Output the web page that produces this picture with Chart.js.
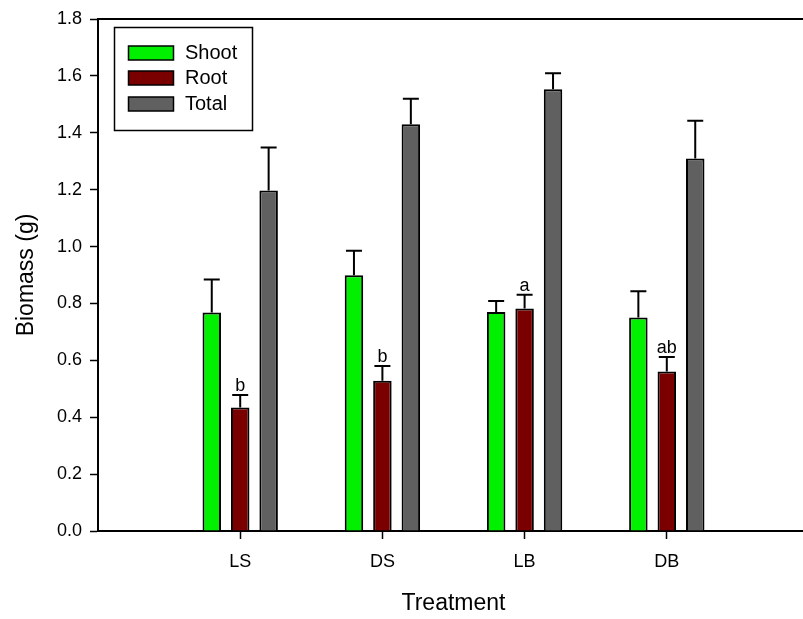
<!DOCTYPE html>
<html>
<head>
<meta charset="utf-8">
<script src="https://cdn.jsdelivr.net/npm/chart.js@4.4.1/dist/chart.umd.min.js"></script>
<style>
  html, body { margin: 0; padding: 0; background: #fff; overflow: hidden; }
  #wrap { width: 803px; height: 619px; overflow: hidden; }
  canvas { display: block; }
</style>
</head>
<body>
<div id="wrap"><canvas id="chart" width="821" height="619"></canvas></div>
<script>
const categories = ['LS', 'DS', 'LB', 'DB'];
const shoot = [0.768, 0.899, 0.770, 0.751];
const root = [0.434, 0.528, 0.782, 0.561];
const total = [1.197, 1.430, 1.553, 1.310];
const shootErr = [0.116, 0.086, 0.039, 0.092];
const rootErr = [0.044, 0.052, 0.049, 0.051];
const totalErr = [0.151, 0.090, 0.056, 0.132];
const rootLetters = ['b', 'b', 'a', 'ab'];
const yTicks = [0.0, 0.2, 0.4, 0.6, 0.8, 1.0, 1.2, 1.4, 1.6, 1.8];

const FONT = 'Arial, "Liberation Sans", sans-serif';

// empty slots either side so the groups sit like the original x range
const pad = arr => [null, ...arr, null];
const labels = ['', ...categories, ''];

const errorBars = {
    id: 'errorBars',
    afterDatasetsDraw(chart) {
        const ctx = chart.ctx;
        const y = chart.scales.y;
        const errs = [shootErr, rootErr, totalErr];
        ctx.save();
        ctx.strokeStyle = '#000';
        ctx.lineWidth = 2;
        chart.data.datasets.forEach((ds, d) => {
            const meta = chart.getDatasetMeta(d);
            errs[d].forEach((e, i) => {
                const bar = meta.data[i + 1];
                const top = y.getPixelForValue(ds.data[i + 1] + e);
                ctx.beginPath();
                ctx.moveTo(bar.x, bar.y);
                ctx.lineTo(bar.x, top);
                ctx.moveTo(bar.x - 8, top);
                ctx.lineTo(bar.x + 8, top);
                ctx.stroke();
                if (d === 1) {
                    ctx.fillStyle = '#000';
                    ctx.font = '18px ' + FONT;
                    ctx.textAlign = 'center';
                    ctx.textBaseline = 'alphabetic';
                    ctx.fillText(rootLetters[i], bar.x, top - 4);
                }
            });
        });
        ctx.restore();
    }
};

const frameAndLegend = {
    id: 'frameAndLegend',
    afterDraw(chart) {
        const ctx = chart.ctx;
        const a = chart.chartArea;
        ctx.save();
        ctx.strokeStyle = '#000';
        ctx.lineWidth = 2;
        ctx.beginPath();
        ctx.moveTo(a.left, a.top);
        ctx.lineTo(a.right, a.top);
        ctx.stroke();

        // legend box
        ctx.lineWidth = 1.5;
        ctx.strokeRect(114.5, 27.5, 138, 103);
        ctx.font = '20px ' + FONT;
        ctx.textAlign = 'left';
        ctx.textBaseline = 'middle';
        const rows = [46, 71, 97];
        chart.data.datasets.forEach((ds, i) => {
            ctx.fillStyle = ds.backgroundColor;
            ctx.fillRect(128.5, rows[i], 45, 14);
            ctx.lineWidth = 1.5;
            ctx.strokeRect(128.5, rows[i], 45, 14);
            ctx.fillStyle = '#000';
            ctx.fillText(ds.label, 185, rows[i] + 7.5);
        });
        ctx.restore();
    }
};

new Chart(document.getElementById('chart'), {
    type: 'bar',
    data: {
        labels: labels,
        datasets: [
            { label: 'Shoot', data: pad(shoot), backgroundColor: '#00f000' },
            { label: 'Root', data: pad(root), backgroundColor: '#7a0000' },
            { label: 'Total', data: pad(total), backgroundColor: '#606060' }
        ].map(ds => Object.assign(ds, {
            borderColor: '#000',
            borderWidth: 2,
            categoryPercentage: 0.6,
            barPercentage: 0.65
        }))
    },
    options: {
        responsive: false,
        animation: false,
        layout: { padding: { top: 19, right: 0, left: 0, bottom: 0 } },
        plugins: {
            legend: { display: false },
            tooltip: { enabled: false }
        },
        scales: {
            x: {
                offset: false,
                afterFit: s => { s.height = 88; },
                grid: {
                    offset: false,
                    drawOnChartArea: false,
                    drawTicks: true,
                    tickLength: 8,
                    tickWidth: 1.5,
                    tickColor: c => (c.index === 0 || c.index === labels.length - 1) ? 'rgba(0,0,0,0)' : '#000'
                },
                border: { display: true, color: '#000', width: 2 },
                ticks: { color: '#000', font: { family: FONT, size: 18 }, padding: 12, maxRotation: 0, autoSkip: false },
                title: {
                    display: true,
                    text: 'Treatment',
                    color: '#000',
                    font: { family: FONT, size: 23 },
                    padding: { top: 0, bottom: 2 }
                }
            },
            y: {
                min: 0,
                max: 1.8,
                afterFit: s => { s.width = 98; },
                afterBuildTicks: s => { s.ticks = yTicks.map(v => ({ value: v })); },
                grid: {
                    drawOnChartArea: false,
                    drawTicks: true,
                    tickLength: 8,
                    tickWidth: 1.5,
                    tickColor: '#000'
                },
                border: { display: true, color: '#000', width: 2 },
                ticks: {
                    color: '#000',
                    font: { family: FONT, size: 18 },
                    padding: 8,
                    callback: v => Number(v).toFixed(1)
                },
                title: {
                    display: true,
                    text: 'Biomass (g)',
                    color: '#000',
                    font: { family: FONT, size: 23 },
                    padding: { top: 13, bottom: 0 }
                }
            }
        }
    },
    plugins: [errorBars, frameAndLegend]
});
</script>
</body>
</html>
